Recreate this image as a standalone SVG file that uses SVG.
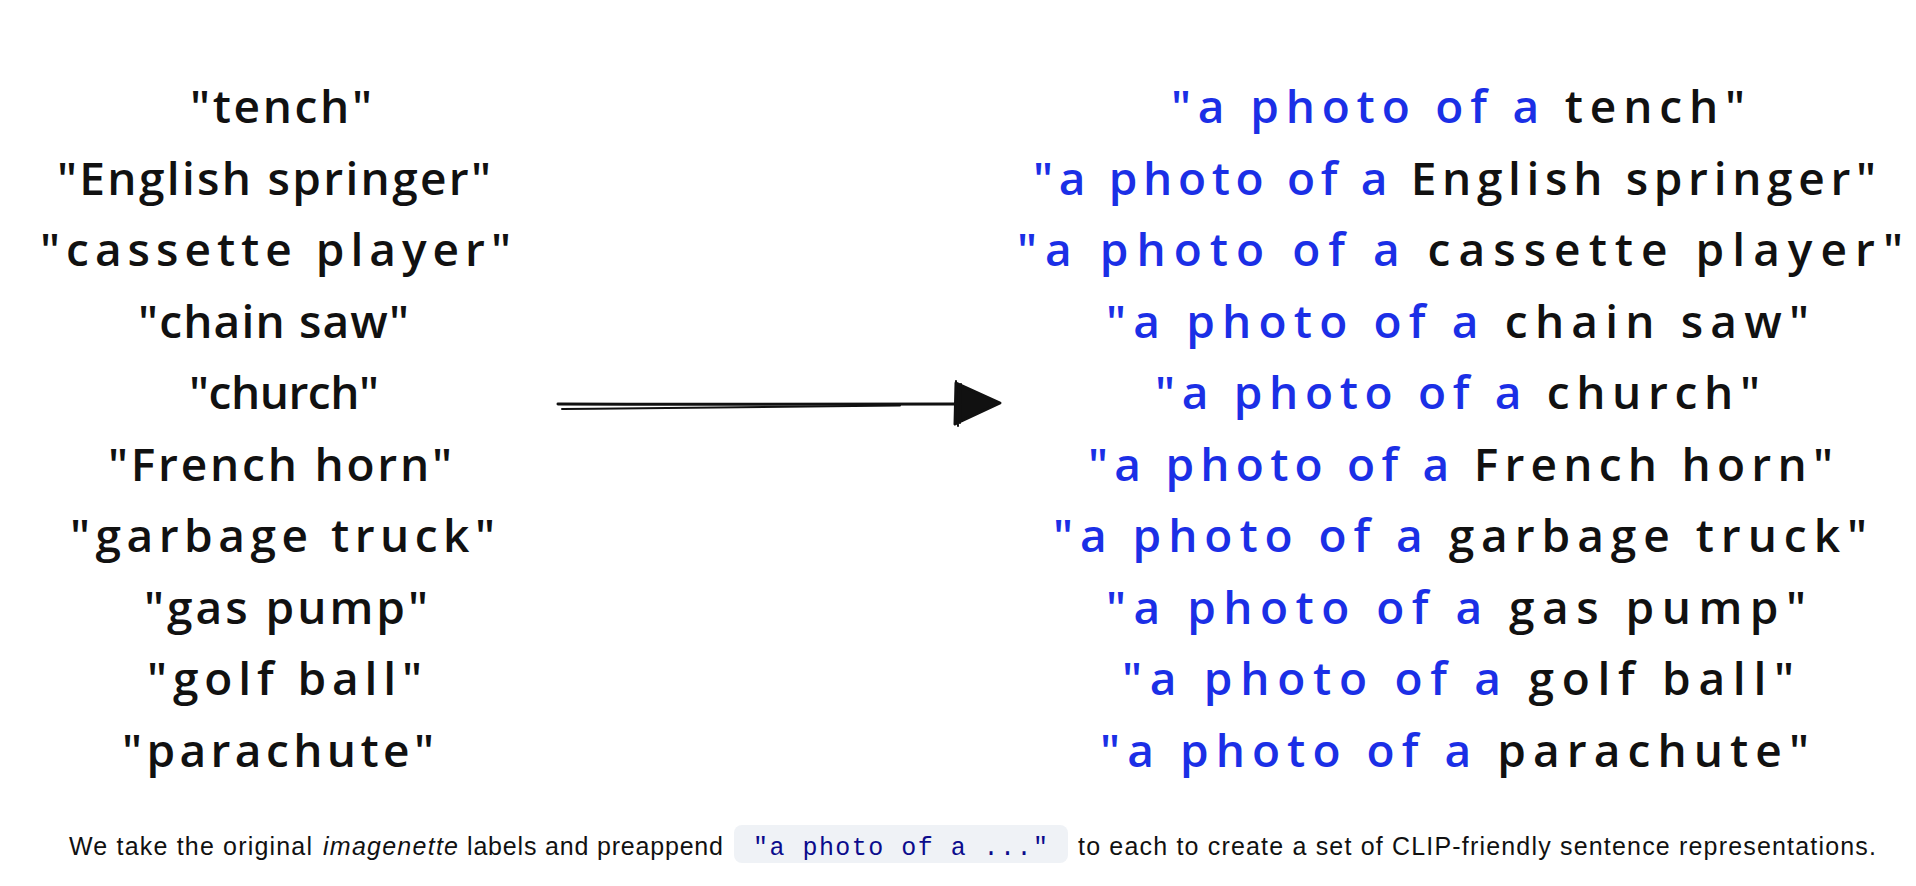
<svg xmlns="http://www.w3.org/2000/svg" width="1916" height="886" viewBox="0 0 1916 886">
  <style>
    .hand { font-family: "Open Sans", "Noto Sans", sans-serif; font-size: 46px; font-weight: 600; fill: #111111; }
    .blue { fill: #1b2fe6; }
    .cap { font-family: "Liberation Sans", Arial, sans-serif; font-size: 25px; fill: #111111; }
    .code { font-family: "Liberation Mono", "DejaVu Sans Mono", monospace; font-size: 25px; fill: #0b0b8c; }
    .stroke { fill: none; stroke: #111111; stroke-linecap: round; stroke-linejoin: round; }
  </style>
  <rect x="0" y="0" width="1916" height="886" fill="#ffffff"/>

  <g id="labels-original">
    <text class="hand" x="190" y="123" textLength="182" lengthAdjust="spacing">"tench"</text>
    <text class="hand" x="57" y="194.5" textLength="434" lengthAdjust="spacing">"English springer"</text>
    <text class="hand" x="40" y="266" textLength="471" lengthAdjust="spacing">"cassette player"</text>
    <text class="hand" x="138" y="337.5" textLength="271" lengthAdjust="spacing">"chain saw"</text>
    <text class="hand" x="189" y="409" textLength="190" lengthAdjust="spacing">"church"</text>
    <text class="hand" x="108" y="480.5" textLength="344" lengthAdjust="spacing">"French horn"</text>
    <text class="hand" x="70" y="552" textLength="425" lengthAdjust="spacing">"garbage truck"</text>
    <text class="hand" x="144" y="623.5" textLength="284" lengthAdjust="spacing">"gas pump"</text>
    <text class="hand" x="147" y="695" textLength="275" lengthAdjust="spacing">"golf ball"</text>
    <text class="hand" x="122" y="766.5" textLength="312" lengthAdjust="spacing">"parachute"</text>
  </g>

  <g id="connectors">
    <path class="stroke" d="M558 404 C 700 404.5, 850 405, 958 404" stroke-width="3"/>
    <path class="stroke" d="M562 409 C 680 408.5, 800 407, 900 405.5" stroke-width="2"/>
    <path d="M956 383 L1000 403 L955 424 Z" fill="#111111" stroke="#111111" stroke-width="3" stroke-linejoin="round"/>
    <path class="stroke" d="M956 381 L958 426 M961 384 L960 423" stroke-width="2"/>
  </g>

  <g id="labels-prompted">
    <text class="hand" x="1171" y="123" textLength="574" lengthAdjust="spacing"><tspan class="blue">"a photo of a </tspan>tench"</text>
    <text class="hand" x="1033" y="194.5" textLength="843" lengthAdjust="spacing"><tspan class="blue">"a photo of a </tspan>English springer"</text>
    <text class="hand" x="1017" y="266" textLength="886" lengthAdjust="spacing"><tspan class="blue">"a photo of a </tspan>cassette player"</text>
    <text class="hand" x="1106" y="337.5" textLength="703" lengthAdjust="spacing"><tspan class="blue">"a photo of a </tspan>chain saw"</text>
    <text class="hand" x="1155" y="409" textLength="605" lengthAdjust="spacing"><tspan class="blue">"a photo of a </tspan>church"</text>
    <text class="hand" x="1088" y="480.5" textLength="745" lengthAdjust="spacing"><tspan class="blue">"a photo of a </tspan>French horn"</text>
    <text class="hand" x="1053" y="552" textLength="814" lengthAdjust="spacing"><tspan class="blue">"a photo of a </tspan>garbage truck"</text>
    <text class="hand" x="1106" y="623.5" textLength="700" lengthAdjust="spacing"><tspan class="blue">"a photo of a </tspan>gas pump"</text>
    <text class="hand" x="1122" y="695" textLength="672" lengthAdjust="spacing"><tspan class="blue">"a photo of a </tspan>golf ball"</text>
    <text class="hand" x="1100" y="766.5" textLength="709" lengthAdjust="spacing"><tspan class="blue">"a photo of a </tspan>parachute"</text>
  </g>

  <g id="caption">
    <text class="cap" x="69" y="855" textLength="243" lengthAdjust="spacing">We take the original</text>
    <text class="cap" x="323" y="855" textLength="135" lengthAdjust="spacing" font-style="italic">imagenette</text>
    <text class="cap" x="467" y="855" textLength="256" lengthAdjust="spacing">labels and preappend</text>
    <rect x="734" y="825" width="334" height="38" rx="8" fill="#eff2f6"/>
    <text class="code" x="753" y="855" textLength="295" lengthAdjust="spacing">"a photo of a ..."</text>
    <text class="cap" x="1078" y="855" textLength="798" lengthAdjust="spacing">to each to create a set of CLIP-friendly sentence representations.</text>
  </g>
</svg>
